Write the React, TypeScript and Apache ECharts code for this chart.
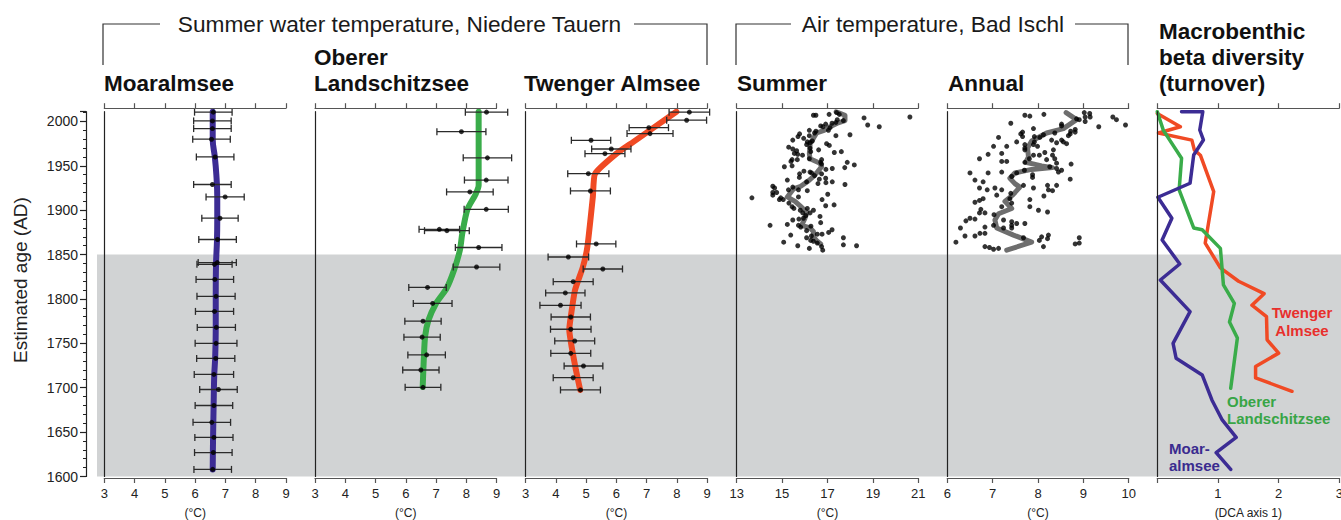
import React, { useEffect, useRef } from "react";
import * as echarts from "echarts";

const FONT = "'Liberation Sans', Arial, Helvetica, sans-serif";
const Y_MIN = 1600;
const Y_MAX = 2011;
const GREY_FROM = 1600;
const GREY_TO = 1850;

// ---------- Moaralmsee (summer water temperature) ----------
const moarYears = [2010.5, 2000.6, 1992, 1980, 1960, 1929, 1915, 1891, 1867, 1841, 1839, 1822, 1803, 1786, 1768, 1750, 1733, 1715, 1698, 1680, 1661, 1644, 1627, 1608];
const moarTemps = [6.6, 6.57, 6.57, 6.54, 6.66, 6.57, 6.99, 6.82, 6.74, 6.73, 6.64, 6.65, 6.69, 6.64, 6.7, 6.69, 6.68, 6.62, 6.77, 6.62, 6.55, 6.62, 6.6, 6.58];
const moarErrs = [0.62, 0.62, 0.62, 0.62, 0.62, 0.62, 0.63, 0.6, 0.62, 0.63, 0.58, 0.62, 0.63, 0.63, 0.63, 0.69, 0.63, 0.65, 0.62, 0.62, 0.62, 0.63, 0.62, 0.62];
const moarLineYears = [2011, 1980, 1960, 1940, 1915, 1890, 1865, 1840, 1803, 1768, 1733, 1714, 1680, 1640, 1608];
const moarLineTemps = [6.58, 6.58, 6.65, 6.7, 6.73, 6.73, 6.72, 6.69, 6.68, 6.68, 6.66, 6.63, 6.61, 6.59, 6.58];

// ---------- Oberer Landschitzsee ----------
const oberYears = [2010.5, 1988.5, 1959, 1934, 1920.6, 1901, 1878.5, 1877, 1858, 1836, 1813, 1795, 1775, 1757, 1737, 1720, 1700.5];
const oberTemps = [8.67, 7.84, 8.7, 8.66, 8.12, 8.66, 7.11, 7.36, 8.41, 8.34, 6.72, 6.89, 6.57, 6.54, 6.69, 6.5, 6.57];
const oberErrs = [0.7, 0.81, 0.8, 0.72, 0.77, 0.73, 0.67, 0.74, 0.77, 0.77, 0.62, 0.64, 0.6, 0.6, 0.62, 0.6, 0.59];
const oberLineYears = [2011, 1928, 1918, 1901, 1874, 1855, 1833, 1812, 1795, 1776, 1758, 1735, 1701];
const oberLineTemps = [8.41, 8.41, 8.31, 8.04, 7.87, 7.79, 7.6, 7.35, 7.0, 6.75, 6.64, 6.6, 6.56];

// ---------- Twenger Almsee ----------
const twenYears = [2010.5, 2001.4, 1993, 1986.3, 1978.8, 1969, 1963.7, 1941.2, 1921.7, 1862, 1847.3, 1833.8, 1819.5, 1806.8, 1792.9, 1779.7, 1765.9, 1752.7, 1738.8, 1724.5, 1711.3, 1697.5];
const twenTemps = [8.41, 8.32, 7.07, 7.11, 5.16, 5.83, 5.62, 5.07, 5.14, 5.33, 4.41, 5.55, 4.57, 4.31, 4.15, 4.49, 4.49, 4.62, 4.49, 4.91, 4.57, 4.81];
const twenErrs = [0.67, 0.66, 0.65, 0.76, 0.65, 0.65, 0.66, 0.68, 0.66, 0.65, 0.67, 0.65, 0.66, 0.65, 0.68, 0.65, 0.67, 0.66, 0.66, 0.64, 0.66, 0.66];
const twenLineYears = [2011, 1977, 1964, 1941, 1915, 1859, 1836, 1810, 1780, 1765, 1746, 1720, 1697.5];
const twenLineTemps = [7.98, 6.56, 6.01, 5.29, 5.22, 5.04, 4.89, 4.63, 4.49, 4.44, 4.52, 4.66, 4.8];

// ---------- Air temperature Bad Ischl: summer ----------
const summerYears = [2007, 2007, 2008, 2010, 2008, 2005, 2004, 2002, 2001, 1999, 1998, 1997, 1996, 1994, 1995, 1994, 1993, 1990, 1990, 1989, 1987, 1984, 1985, 1986, 1983, 1981, 1984, 1979, 1977, 1976, 1978, 1974, 1975, 1973, 1971, 1969, 1970, 1968, 1967, 1963, 1964, 1966, 1965, 1966, 1962, 1957, 1955, 1957, 1958, 1957, 1954, 1951, 1948, 1949, 1950, 1952, 1954, 1947, 1946, 1944, 1943, 1941, 1937, 1942, 1941, 1939, 1935, 1936, 1934, 1932, 1930, 1931, 1932, 1929, 1927, 1925, 1926, 1923, 1922, 1923, 1920, 1920, 1917, 1914, 1914, 1912, 1912, 1915, 1918, 1912, 1908, 1904, 1902, 1900, 1902, 1900, 1905, 1906, 1897, 1897, 1894, 1893, 1889, 1890, 1891, 1886, 1883, 1884, 1883, 1881, 1882, 1877, 1875, 1878, 1872, 1869, 1871, 1873, 1873, 1869, 1866, 1865, 1864, 1860, 1857, 1859, 1855, 1861, 1860, 1863];
const summerTemps = [16.38, 16.49, 17.07, 17.4, 17.52, 20.63, 18.61, 17.43, 17.7, 17.37, 17.2, 16.92, 18.77, 19.28, 16.7, 16.8, 17.11, 17.04, 16.2, 16.49, 16.43, 17.37, 17.99, 15.77, 15.7, 15.95, 16.2, 15.47, 16.11, 16.23, 16.33, 16.08, 16.96, 17.08, 15.29, 15.47, 16.23, 16.61, 15.64, 15.69, 15.54, 16.26, 17.3, 17.61, 15.9, 15.44, 15.39, 15.67, 16.2, 16.74, 17.87, 18.18, 17.76, 15.1, 15.44, 16.74, 16.7, 17.21, 16.93, 15.96, 16.23, 15.77, 15.76, 16.3, 16.74, 16.43, 16.64, 16.92, 15.23, 16.08, 16.58, 16.93, 17.21, 17.77, 14.59, 14.67, 15.47, 15.28, 16.11, 15.72, 14.59, 14.76, 14.59, 13.67, 14.94, 14.88, 15.05, 15.72, 17.01, 16.76, 15.3, 15.44, 15.52, 15.8, 16.11, 16.38, 16.92, 17.29, 15.91, 16.23, 16.05, 16.67, 15.47, 15.74, 15.94, 16.7, 14.47, 15.23, 15.72, 15.82, 16.27, 16.08, 17.05, 17.2, 15.38, 16.08, 16.29, 16.55, 16.76, 17.7, 16.26, 16.38, 15.07, 15.69, 16.2, 16.74, 16.79, 17.7, 18.28, 16.55];
const summerLineYears = [2011, 2007, 2001, 1998, 1994, 1990, 1987, 1981, 1975, 1972, 1964, 1958, 1953, 1949, 1943, 1938, 1933, 1927, 1924, 1915, 1910, 1904, 1898, 1891, 1883, 1880, 1876, 1870, 1865, 1862];
const summerLineTemps = [17.38, 17.77, 17.77, 17.43, 17.11, 16.85, 16.52, 16.38, 16.23, 16.23, 16.2, 16.23, 16.67, 16.74, 16.55, 16.38, 16.16, 15.82, 15.5, 15.23, 15.57, 15.83, 16.08, 16.01, 15.86, 16.23, 16.38, 16.38, 16.55, 16.7];

// ---------- Air temperature Bad Ischl: annual ----------
const annualYears = [2007, 2006, 2008, 2010, 2009, 2005, 2005, 2003, 2002, 2000, 2005, 2002, 1996, 1994, 1998, 1997, 1995, 1992, 1991, 1988, 1989, 1986, 1984, 1987, 1985, 1979, 1988, 1986, 1983, 1982, 1983, 1982, 1977, 1977, 1975, 1976, 1979, 1977, 1972, 1972, 1974, 1970, 1974, 1972, 1968, 1965, 1968, 1962, 1962, 1958, 1957, 1962, 1958, 1964, 1963, 1958, 1955, 1955, 1954, 1952, 1953, 1949, 1947, 1945, 1943, 1935, 1940, 1937, 1945, 1942, 1938, 1943, 1942, 1942, 1934, 1932, 1925, 1923, 1925, 1923, 1919, 1913, 1917, 1913, 1911, 1909, 1901, 1897, 1897, 1895, 1904, 1908, 1912, 1904, 1916, 1928, 1923, 1928, 1922, 1925, 1928, 1900, 1898, 1889, 1887, 1883, 1885, 1885, 1880, 1880, 1883, 1881, 1891, 1890, 1888, 1880, 1871, 1871, 1874, 1874, 1864, 1859, 1858, 1856, 1857, 1869, 1870, 1872, 1868, 1866, 1859, 1869, 1862, 1863];
const annualTemps = [7.71, 7.82, 8.13, 9.02, 9.14, 9.04, 9.15, 8.85, 8.91, 9.04, 9.65, 9.73, 9.93, 9.34, 7.4, 8.52, 8.52, 7.9, 8.82, 8.82, 8.72, 8.71, 8.67, 8.37, 8.12, 8.3, 7.66, 7.62, 7.66, 7.13, 7.92, 8.04, 7.92, 8.56, 8.63, 8.41, 8.52, 7.53, 7.31, 7.02, 7.71, 7.71, 7.9, 7.99, 7.71, 8.15, 8.34, 8.32, 8.03, 8.37, 8.19, 7.9, 7.81, 7.2, 6.9, 6.71, 7.2, 7.31, 7.71, 8.73, 8.41, 8.26, 8.41, 8.52, 8.45, 8.71, 7.88, 7.88, 7.7, 7.53, 7.42, 7.2, 6.9, 6.5, 6.61, 6.79, 6.71, 6.88, 7.05, 7.2, 7.4, 7.38, 7.09, 6.79, 6.71, 6.61, 6.74, 6.83, 6.71, 7.03, 7.2, 7.42, 7.82, 7.82, 8.13, 8.21, 8.23, 8.41, 8.32, 7.9, 7.68, 8.01, 8.21, 7.24, 7.42, 7.42, 7.53, 7.71, 7.42, 7.24, 7.02, 6.83, 6.5, 6.61, 6.41, 6.29, 6.39, 6.61, 6.72, 6.83, 6.19, 6.83, 6.93, 7.02, 7.13, 7.68, 8.08, 8.23, 8.21, 8.03, 8.12, 8.91, 8.82, 8.91];
const annualLineYears = [2010, 2002, 1992, 1987, 1978, 1970, 1960, 1954, 1950, 1948, 1946, 1942, 1936, 1930, 1926, 1917, 1910, 1902, 1896, 1889, 1880, 1872, 1864, 1855];
const annualLineTemps = [8.62, 8.85, 8.56, 8.19, 7.86, 7.77, 7.79, 7.73, 8.08, 8.32, 7.86, 7.49, 7.38, 7.49, 7.6, 7.44, 7.27, 7.42, 7.13, 7.05, 7.09, 7.46, 7.86, 7.31];

// ---------- Macrobenthic beta diversity (DCA axis 1) ----------
const dcaMoarYears = [2011, 2011, 1990.4, 1979.2, 1962.3, 1930.4, 1914.6, 1891, 1866.5, 1839.4, 1821.4, 1785.7, 1750, 1733.2, 1714.4, 1686.2, 1663.7, 1644, 1626.8, 1608];
const dcaMoarValues = [0.4, 0.75, 0.7, 0.76, 0.6, 0.54, 0.01, 0.24, 0.08, 0.37, 0.05, 0.54, 0.26, 0.31, 0.74, 0.9, 1.07, 1.3, 0.97, 1.21];
const dcaTwenYears = [2009, 1994, 1987, 1979, 1968, 1962, 1921, 1863, 1835, 1820, 1806, 1793, 1780, 1754, 1739, 1724, 1711, 1696];
const dcaTwenValues = [0.0, 0.38, 0.02, 0.57, 0.61, 0.71, 0.93, 0.79, 1.04, 1.34, 1.76, 1.56, 1.8, 1.81, 2.0, 1.62, 1.62, 2.22];
const dcaOberYears = [2011, 1990, 1958.5, 1923, 1880, 1878, 1857, 1816, 1795, 1774, 1756, 1699.4];
const dcaOberValues = [0.0, 0.1, 0.4, 0.36, 0.6, 0.74, 1.04, 1.09, 1.27, 1.19, 1.32, 1.21];

// ---------- layout / style ----------
const PANELS = [
  { left: 104.3, width: 181.7, min: 3, max: 9, interval: 1, name: "(°C)" },
  { left: 315, width: 181.5, min: 3, max: 9, interval: 1, name: "(°C)" },
  { left: 525.7, width: 181.5, min: 3, max: 9, interval: 1, name: "(°C)" },
  { left: 736.7, width: 181.6, min: 13, max: 21, interval: 2, name: "(°C)" },
  { left: 947.3, width: 181.4, min: 6, max: 10, interval: 1, name: "(°C)" },
  { left: 1157.3, width: 182, min: 0, max: 3, interval: 1, name: "(DCA axis 1)" },
];
const GRID_TOP = 111.7;
const GRID_BOTTOM = 43.5;
const AX = "#555";
const PURPLE = "#3c2c94";
const GREEN = "#3aac4a";
const RED = "#f04a24";
const GREY_LINE = "#6e6e6e";

const zip = (xs: number[], ys: number[]) => xs.map((x, i) => [x, ys[i]]);

function errorBars(panel: number, temps: number[], years: number[], errs: number[]) {
  return {
    type: "custom",
    xAxisIndex: panel * 2 + 1,
    yAxisIndex: panel,
    silent: true,
    z: 3,
    encode: { x: 0, y: 1 },
    data: temps.map((t, i) => [t, years[i], errs[i]]),
    renderItem: (params: any, api: any) => {
      const t = api.value(0);
      const yr = api.value(1);
      const e = api.value(2);
      const l = api.coord([t - e, yr]);
      const r = api.coord([t + e, yr]);
      const st = { stroke: "#2b2b2b", lineWidth: 1.3 };
      return {
        type: "group",
        children: [
          { type: "line", shape: { x1: l[0], y1: l[1], x2: r[0], y2: r[1] }, style: st },
          { type: "line", shape: { x1: l[0], y1: l[1] - 3.5, x2: l[0], y2: l[1] + 3.5 }, style: st },
          { type: "line", shape: { x1: r[0], y1: r[1] - 3.5, x2: r[0], y2: r[1] + 3.5 }, style: st },
        ],
      };
    },
  };
}

function lineSeries(panel: number, xs: number[], ys: number[], color: string, width: number, smooth: number | boolean, z = 2) {
  return {
    type: "line",
    xAxisIndex: panel * 2 + 1,
    yAxisIndex: panel,
    data: zip(xs, ys),
    showSymbol: false,
    symbol: "none",
    smooth,
    silent: true,
    z,
    lineStyle: { color, width, cap: "round", join: "round" },
  };
}

function dots(panel: number, xs: number[], ys: number[], size: number) {
  return {
    type: "scatter",
    xAxisIndex: panel * 2 + 1,
    yAxisIndex: panel,
    data: zip(xs, ys),
    symbolSize: size,
    silent: true,
    z: 4,
    itemStyle: { color: "#000" },
  };
}

function txt(text: string, x: number, y: number, size: number, weight: string, color: string, align = "left", rotation = 0) {
  return {
    type: "text",
    x,
    y,
    z: 20,
    rotation,
    silent: true,
    style: {
      text,
      fontSize: size,
      fontWeight: weight,
      fontFamily: FONT,
      fill: color,
      align,
      textAlign: align,
      verticalAlign: "middle",
      textVerticalAlign: "middle",
    },
  };
}

function bracket(points: number[][]) {
  return {
    type: "polyline",
    silent: true,
    z: 20,
    shape: { points },
    style: { stroke: "#333", lineWidth: 1.2, fill: "none" },
  };
}

function buildOption() {
  const grids: any[] = PANELS.map((p) => ({
    left: p.left,
    width: p.width,
    top: GRID_TOP,
    bottom: GRID_BOTTOM,
    containLabel: false,
    outerBoundsMode: "none",
  }));
  grids.push({ left: 97, width: 1341 - 97, top: GRID_TOP, bottom: GRID_BOTTOM, containLabel: false, outerBoundsMode: "none" });

  const xAxes: any[] = [];
  PANELS.forEach((p, i) => {
    const common = {
      gridIndex: i,
      type: "value",
      min: p.min,
      max: p.max,
      interval: p.interval,
      splitLine: { show: false },
      axisLine: { show: true, onZero: false, lineStyle: { color: AX, width: 1.2 } },
      axisTick: { show: true, length: 5, lineStyle: { color: AX, width: 1.2 } },
      z: 3,
    };
    xAxes.push({ ...common, position: "top", offset: 3.5, axisLabel: { show: false } });
    xAxes.push({
      ...common,
      position: "bottom",
      offset: 1.5,
      axisLabel: {
        show: true,
        fontSize: 13,
        color: "#222",
        fontFamily: FONT,
        margin: 9,
        formatter: (v: number) => (i === 5 && v === 0 ? "" : String(v)),
      },
      name: p.name,
      nameLocation: "middle",
      nameGap: 29,
      nameTextStyle: { fontSize: 12, color: "#222", fontFamily: FONT },
    });
  });
  xAxes.push({ gridIndex: 6, type: "value", min: 0, max: 1, show: false });

  const yAxes: any[] = PANELS.map((_, i) => ({
    gridIndex: i,
    type: "value",
    min: Y_MIN,
    max: Y_MAX,
    position: "left",
    axisLine: { show: true, onZero: false, lineStyle: { color: "#222", width: 1.2 } },
    axisTick: { show: false },
    axisLabel: { show: false },
    splitLine: { show: false },
    z: 3,
  }));
  yAxes.push({ gridIndex: 6, type: "value", min: Y_MIN, max: Y_MAX, show: false });
  yAxes.push({
    gridIndex: 0,
    type: "value",
    min: Y_MIN,
    max: Y_MAX,
    interval: 50,
    position: "left",
    offset: 18.3,
    axisLine: { show: true, onZero: false, lineStyle: { color: "#222", width: 1.2 } },
    axisTick: { show: true, length: 6, lineStyle: { color: "#222", width: 1.2 } },
    minorTick: { show: true, splitNumber: 5, length: 3, lineStyle: { color: "#222", width: 1 } },
    axisLabel: {
      show: true,
      fontSize: 14,
      color: "#222",
      fontFamily: FONT,
      margin: 8,
      formatter: (v: number) => (v % 50 === 0 ? String(v) : ""),
    },
    splitLine: { show: false },
    z: 3,
  });

  const series: any[] = [
    {
      type: "line",
      xAxisIndex: 12,
      yAxisIndex: 6,
      data: [],
      silent: true,
      z: -1,
      markArea: {
        silent: true,
        itemStyle: { color: "#d1d3d4" },
        data: [[{ yAxis: GREY_FROM }, { yAxis: GREY_TO }]],
      },
    },
    lineSeries(0, moarLineTemps, moarLineYears, PURPLE, 6, 0.4),
    errorBars(0, moarTemps, moarYears, moarErrs),
    dots(0, moarTemps, moarYears, 5),
    lineSeries(1, oberLineTemps, oberLineYears, GREEN, 6, 0.25),
    errorBars(1, oberTemps, oberYears, oberErrs),
    dots(1, oberTemps, oberYears, 5),
    lineSeries(2, twenLineTemps, twenLineYears, RED, 6, 0.15),
    errorBars(2, twenTemps, twenYears, twenErrs),
    dots(2, twenTemps, twenYears, 5),
    lineSeries(3, summerLineTemps, summerLineYears, GREY_LINE, 5, false),
    dots(3, summerTemps, summerYears, 5),
    lineSeries(4, annualLineTemps, annualLineYears, GREY_LINE, 5, false),
    dots(4, annualTemps, annualYears, 5),
    lineSeries(5, dcaTwenValues, dcaTwenYears, RED, 3.5, false),
    lineSeries(5, dcaOberValues, dcaOberYears, GREEN, 3.5, false),
    lineSeries(5, dcaMoarValues, dcaMoarYears, PURPLE, 3.5, false),
  ];

  const graphic: any[] = [
    bracket([[103, 65], [103, 24], [160, 24]]),
    bracket([[634, 24], [707, 24], [707, 65]]),
    bracket([[736, 65], [736, 24], [791, 24]]),
    bracket([[1075, 24], [1128, 24], [1128, 65]]),
    txt("Summer water temperature, Niedere Tauern", 399.5, 24, 22.7, "normal", "#1a1a1a", "center"),
    txt("Air temperature, Bad Ischl", 933, 24, 22.7, "normal", "#1a1a1a", "center"),
    txt("Moaralmsee", 104, 83, 22.5, "bold", "#111"),
    txt("Oberer", 314, 57.5, 22.5, "bold", "#111"),
    txt("Landschitzsee", 314, 83, 22.5, "bold", "#111"),
    txt("Twenger Almsee", 524, 83, 22.5, "bold", "#111"),
    txt("Summer", 737, 83, 22.5, "bold", "#111"),
    txt("Annual", 948, 83, 22.5, "bold", "#111"),
    txt("Macrobenthic", 1159, 31.3, 22.5, "bold", "#111"),
    txt("beta diversity", 1159, 57.3, 22.5, "bold", "#111"),
    txt("(turnover)", 1159, 83.3, 22.5, "bold", "#111"),
    txt("Estimated age (AD)", 20, 280, 19, "normal", "#222", "center", Math.PI / 2),
    txt("Twenger", 1302, 312, 15, "bold", "#e8302c", "center"),
    txt("Almsee", 1302, 330, 15, "bold", "#e8302c", "center"),
    txt("Oberer", 1227, 401, 15, "bold", "#38a546"),
    txt("Landschitzsee", 1227, 418, 15, "bold", "#38a546"),
    txt("Moar-", 1169, 448, 15, "bold", "#3a2b8f"),
    txt("almsee", 1169, 465, 15, "bold", "#3a2b8f"),
  ];

  return {
    animation: false,
    backgroundColor: "#ffffff",
    textStyle: { fontFamily: FONT },
    grid: grids,
    xAxis: xAxes,
    yAxis: yAxes,
    series,
    graphic,
  };
}

export default function App() {
  const ref = useRef<HTMLDivElement>(null);
  useEffect(() => {
    if (!ref.current) return;
    const chart = echarts.init(ref.current, null, { renderer: "svg" });
    chart.setOption(buildOption() as any);
    return () => chart.dispose();
  }, []);
  return (
    <div
      ref={ref}
      style={{ position: "absolute", left: 0, top: 0, width: 1341, height: 520, background: "#fff" }}
    />
  );
}
